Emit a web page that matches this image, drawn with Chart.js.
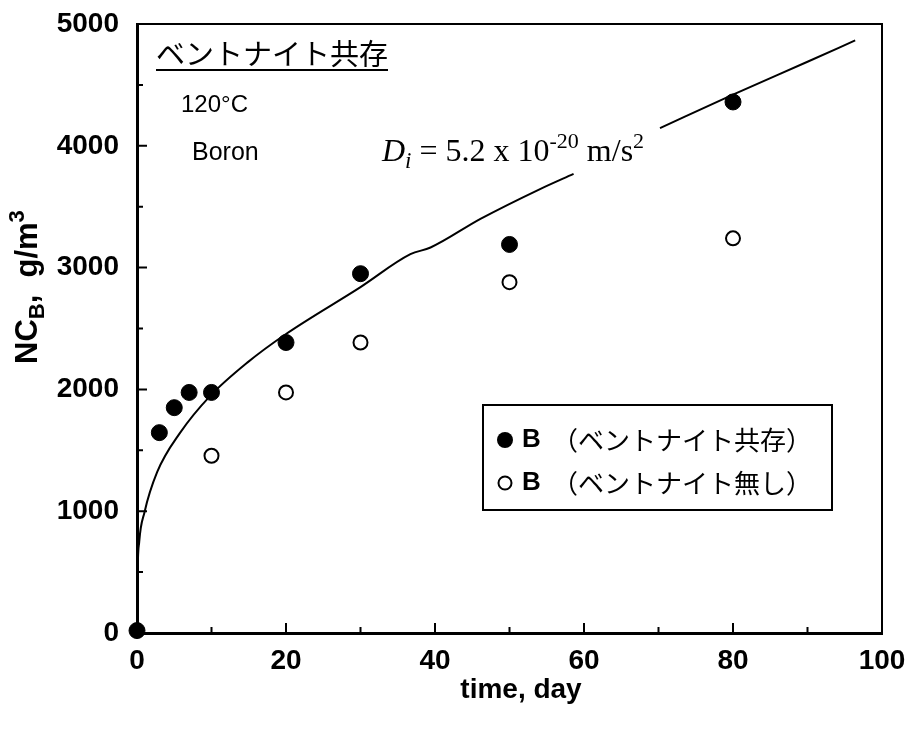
<!DOCTYPE html>
<html>
<head>
<meta charset="utf-8">
<script src="https://cdn.jsdelivr.net/npm/chart.js@4.4.1/dist/chart.umd.min.js"></script>
<style>
body { margin: 0; background: #fff; }
</style>
</head>
<body>
<canvas id="canvas" width="918" height="731"></canvas>
<script>
// fitted curve, null = gap left for the label
var curveDays = [0, 0.05, 0.3, 1, 2.7, 5.8, 9.8, 14.8, 20, 30, 36.7, 39.4, 46.1, 54.1, 58.6, 64, 70.2, 80, 90, 96.4];
var curveValues = [0, 400, 750, 990, 1320, 1645, 1945, 2220, 2455, 2840, 3110, 3165, 3400, 3645, 3770, null, 4145, 4420, 4690, 4865];
// B with bentonite (filled)
var withDays = [0, 3, 5, 7, 10, 20, 30, 50, 80];
var withValues = [20, 1645, 1850, 1975, 1975, 2385, 2950, 3190, 4360];
// B without bentonite (open)
var withoutDays = [10, 20, 30, 50, 80];
var withoutValues = [1455, 1975, 2385, 2880, 3240];
var xTicks = [0, 20, 40, 60, 80, 100];
var yTicks = [0, 1000, 2000, 3000, 4000, 5000];
var xMinor = [10, 30, 50, 70, 90];
var yMinor = [500, 1500, 2500, 3500, 4500];

function points(xs, ys) {
    return xs.map(function(x, i) { return {x: x, y: ys[i]}; });
}

var SANS = '"Liberation Sans", Arial, sans-serif';
var SERIF = '"Liberation Serif", "Times New Roman", serif';
var JP = '"Noto Sans CJK JP", sans-serif';

function drawRuns(ctx, runs, x, y) {
    runs.forEach(function(r) {
        ctx.font = r.font;
        ctx.fillText(r.text, x, y + (r.dy || 0));
        x += ctx.measureText(r.text).width;
    });
    return x;
}

var decor = {
    id: 'decor',
    afterDraw: function(chart) {
        var ctx = chart.ctx;
        var a = chart.chartArea;
        var xs = chart.scales.x, ys = chart.scales.y;
        ctx.save();
        ctx.strokeStyle = '#000';
        ctx.fillStyle = '#000';

        // top and right frame
        ctx.lineWidth = 2;
        ctx.beginPath();
        ctx.moveTo(a.left, a.top);
        ctx.lineTo(a.right, a.top);
        ctx.lineTo(a.right, a.bottom);
        ctx.stroke();

        // inward ticks
        ctx.lineWidth = 2;
        ctx.beginPath();
        xTicks.concat(xMinor).forEach(function(v) {
            if (v === 0 || v === 100) return;
            var len = xMinor.indexOf(v) >= 0 ? 6 : 10;
            var px = xs.getPixelForValue(v);
            ctx.moveTo(px, a.bottom);
            ctx.lineTo(px, a.bottom - len);
        });
        yTicks.concat(yMinor).forEach(function(v) {
            if (v === 0 || v === 5000) return;
            var len = yMinor.indexOf(v) >= 0 ? 6 : 10;
            var py = ys.getPixelForValue(v);
            ctx.moveTo(a.left, py);
            ctx.lineTo(a.left + len, py);
        });
        ctx.stroke();

        // axis titles
        ctx.textBaseline = 'alphabetic';
        ctx.textAlign = 'left';
        ctx.font = 'bold 28px ' + SANS;
        var xt = 'time, day';
        ctx.fillText(xt, 521 - ctx.measureText(xt).width / 2, 698);

        ctx.save();
        ctx.translate(37, 364);
        ctx.rotate(-Math.PI / 2);
        drawRuns(ctx, [
            {text: 'NC', font: 'bold 31px ' + SANS},
            {text: 'B', font: 'bold 22px ' + SANS, dy: 7},
            {text: ',  g/m', font: 'bold 31px ' + SANS},
            {text: '3', font: 'bold 22px ' + SANS, dy: -13}
        ], 0, 0);
        ctx.restore();

        // annotations
        ctx.font = '29px ' + JP;
        var title = 'ベントナイト共存';
        ctx.fillText(title, 156, 65);
        var tw = ctx.measureText(title).width;
        ctx.lineWidth = 2;
        ctx.beginPath();
        ctx.moveTo(156, 70);
        ctx.lineTo(156 + tw, 70);
        ctx.stroke();

        ctx.font = '24px ' + SANS;
        ctx.fillText('120°C', 181, 112);
        ctx.font = '25px ' + SANS;
        ctx.fillText('Boron', 192, 160);

        drawRuns(ctx, [
            {text: 'D', font: 'italic 32px ' + SERIF},
            {text: 'i', font: 'italic 23px ' + SERIF, dy: 7},
            {text: ' = 5.2 x 10', font: '32px ' + SERIF},
            {text: '-20', font: '22px ' + SERIF, dy: -13},
            {text: ' m/s', font: '32px ' + SERIF},
            {text: '2', font: '22px ' + SERIF, dy: -13}
        ], 382, 161);

        // legend
        ctx.lineWidth = 2;
        ctx.strokeRect(483, 405, 349, 105);
        var rows = [
            {y: 440, filled: true, text: '（ベントナイト共存）'},
            {y: 483, filled: false, text: '（ベントナイト無し）'}
        ];
        rows.forEach(function(r) {
            ctx.beginPath();
            if (r.filled) {
                ctx.arc(505, r.y, 8, 0, Math.PI * 2);
                ctx.fill();
            } else {
                ctx.arc(505, r.y, 6.5, 0, Math.PI * 2);
                ctx.lineWidth = 2;
                ctx.stroke();
            }
            ctx.textBaseline = 'middle';
            ctx.font = 'bold 26px ' + SANS;
            ctx.fillText('B', 522, r.y);
            ctx.font = '26px ' + JP;
            ctx.fillText(r.text, 552, r.y);
        });
        ctx.restore();
    }
};

var config = {
    type: 'scatter',
    data: {
        datasets: [{
            label: 'fit',
            type: 'line',
            data: points(curveDays, curveValues),
            borderColor: '#000',
            borderWidth: 2,
            pointRadius: 0,
            cubicInterpolationMode: 'monotone',
            spanGaps: false,
            fill: false
        }, {
            label: 'B (ベントナイト共存)',
            data: points(withDays, withValues),
            backgroundColor: '#000',
            borderColor: '#000',
            pointRadius: 8,
            pointHoverRadius: 8,
            clip: false
        }, {
            label: 'B (ベントナイト無し)',
            data: points(withoutDays, withoutValues),
            backgroundColor: '#fff',
            borderColor: '#000',
            borderWidth: 2,
            pointRadius: 7,
            pointHoverRadius: 7,
            clip: false
        }]
    },
    options: {
        responsive: false,
        animation: false,
        events: [],
        layout: {
            padding: {top: 24, right: 36, left: 0, bottom: 0}
        },
        plugins: {
            legend: {display: false},
            tooltip: {enabled: false}
        },
        scales: {
            x: {
                type: 'linear',
                min: 0,
                max: 100,
                afterBuildTicks: function(scale) {
                    scale.ticks = xTicks.map(function(v) { return {value: v}; });
                },
                afterFit: function(scale) {
                    scale.height = 98;
                    scale.paddingLeft = 0;
                    scale.paddingRight = 0;
                },
                grid: {drawOnChartArea: false, drawTicks: false},
                border: {display: true, color: '#000', width: 3},
                ticks: {
                    color: '#000',
                    padding: 11,
                    maxRotation: 0,
                    callback: function(v) { return String(v); },
                    font: {family: SANS, size: 28, weight: 'bold'}
                }
            },
            y: {
                type: 'linear',
                min: 0,
                max: 5000,
                afterBuildTicks: function(scale) {
                    scale.ticks = yTicks.map(function(v) { return {value: v}; });
                },
                afterFit: function(scale) {
                    scale.width = 137;
                    scale.paddingTop = 0;
                    scale.paddingBottom = 0;
                },
                grid: {drawOnChartArea: false, drawTicks: false},
                border: {display: true, color: '#000', width: 3},
                ticks: {
                    color: '#000',
                    padding: 18,
                    callback: function(v) { return String(v); },
                    font: {family: SANS, size: 28, weight: 'bold'}
                }
            }
        }
    },
    plugins: [decor]
};

window.onload = function() {
    window.myChart = new Chart(document.getElementById('canvas'), config);
};
</script>
</body>
</html>
